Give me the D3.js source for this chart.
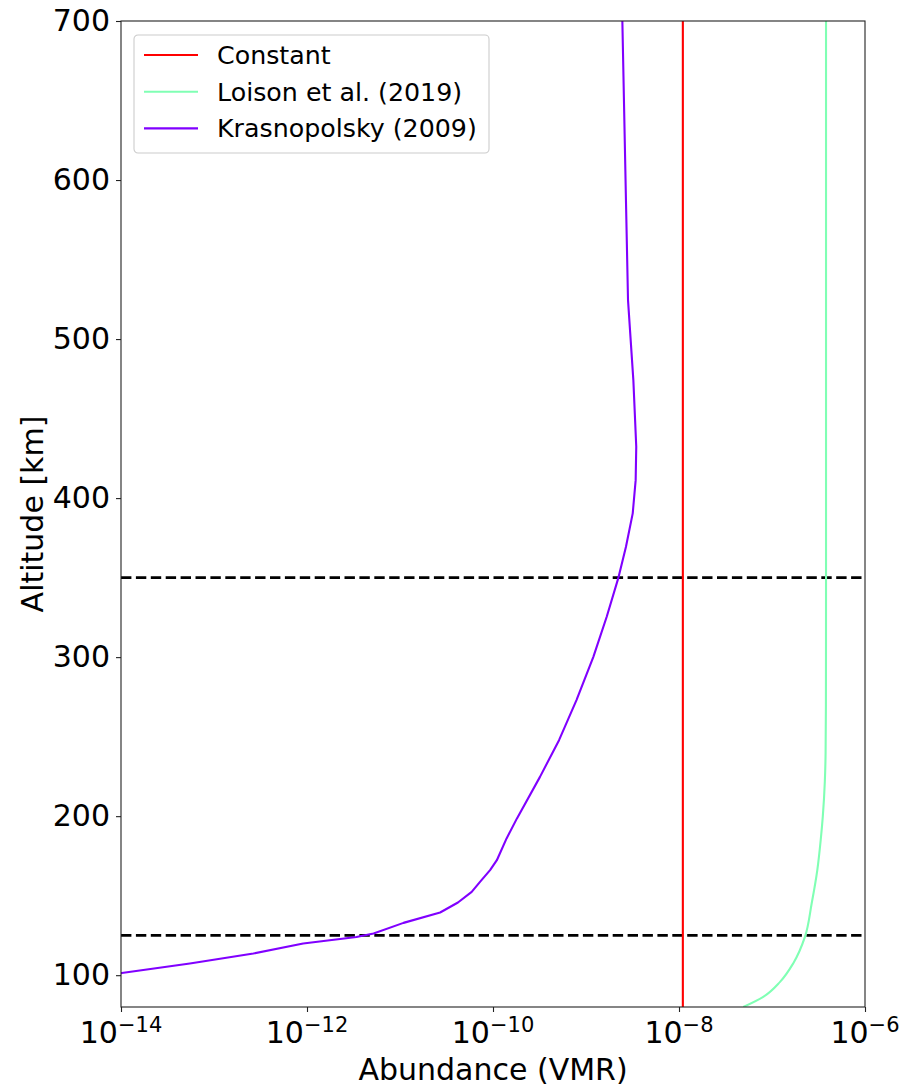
<!DOCTYPE html>
<html lang="en">
<head>
    <meta charset="UTF-8">
    <title>Abundance profiles</title>
    <script src="https://d3js.org/d3.v7.min.js"></script>
    <style>
        body { margin: 0; background: #fff; }
        svg { display: block; }
        text { font-family: "DejaVu Sans", sans-serif; fill: #000; }
    </style>
</head>
<body>
<svg id="chart" width="902" height="1084"></svg>
<script>
    // altitude [km] and abundance (VMR)
    const constantAlt = [80, 700];
    const constantVmr = [1.1e-8, 1.1e-8];

    const loisonAlt = [80, 86.4, 95.8, 107.4, 124.1, 145.1, 166.1, 185, 200, 222, 240, 270, 350, 500, 700];
    const loisonVmr = [4.91e-8, 8.05e-8, 1.22e-7, 1.69e-7, 2.26e-7, 2.67e-7, 3.07e-7, 3.34e-7, 3.52e-7, 3.70e-7, 3.77e-7, 3.80e-7, 3.81e-7, 3.81e-7, 3.81e-7];

    const krasAlt = [98, 101.4, 107.4, 113.6, 119.9, 124.0, 126.2, 132.9, 139.4, 145.7, 152.4, 158.7, 166.1, 172.3,
        186, 198.6, 224.7, 247.8, 273, 300.2, 325.4, 349.5, 369.4, 390.4, 411.3, 432.3, 474.2, 524.5, 587, 700];
    const krasVmr = [6e-15, 1.02e-14, 5.5e-14, 2.65e-13, 9.1e-13, 3.4e-12, 5.2e-12, 1.09e-11, 2.7e-11, 4.2e-11, 5.9e-11, 7.25e-11, 9.3e-11, 1.10e-10,
        1.40e-10, 1.81e-10, 3.20e-10, 5.13e-10, 7.9e-10, 1.20e-9, 1.67e-9, 2.22e-9, 2.69e-9, 3.18e-9, 3.42e-9, 3.47e-9, 3.23e-9, 2.83e-9, 2.69e-9, 2.46e-9];

    const boundaryAlt = [125, 350];

    const xTicks = [1e-14, 1e-12, 1e-10, 1e-8, 1e-6];
    const xTickExp = ["−14", "−12", "−10", "−8", "−6"];
    const yTicks = [100, 200, 300, 400, 500, 600, 700];

    const seriesNames = ["Constant", "Loison et al. (2019)", "Krasnopolsky (2009)"];
    const seriesColors = ["#ff0000", "#80ffb4", "#8000ff"];

    const margin = { top: 21, right: 37, bottom: 77, left: 121 };
    const width = 902 - margin.left - margin.right;
    const height = 1084 - margin.top - margin.bottom;

    const svg = d3.select("#chart");
    const g = svg.append("g").attr("transform", `translate(${margin.left},${margin.top})`);

    const x = d3.scaleLog().domain([1e-14, 1e-6]).range([0, width]);
    const y = d3.scaleLinear().domain([80, 700]).range([height, 0]);

    g.append("clipPath").attr("id", "clip")
        .append("rect").attr("width", width).attr("height", height);

    const plot = g.append("g").attr("clip-path", "url(#clip)");

    // boundary lines
    plot.selectAll(".hline")
        .data(boundaryAlt)
        .enter()
        .append("line")
        .attr("x1", 0)
        .attr("x2", width)
        .attr("y1", d => y(d))
        .attr("y2", d => y(d))
        .attr("stroke", "#000")
        .attr("stroke-width", 2.8)
        .attr("stroke-dasharray", "10.4,4.5");

    // the Loison profile is smooth, the Krasnopolsky one is a piecewise table
    const series = [
        { alt: constantAlt, vmr: constantVmr, curve: d3.curveLinear },
        { alt: loisonAlt, vmr: loisonVmr, curve: d3.curveMonotoneY },
        { alt: krasAlt, vmr: krasVmr, curve: d3.curveLinear }
    ];

    series.forEach((s, i) => {
        const pts = s.alt.map((a, j) => [s.vmr[j], a]);
        const line = d3.line()
            .x(d => x(d[0]))
            .y(d => y(d[1]))
            .curve(s.curve);
        plot.append("path")
            .datum(pts)
            .attr("d", line)
            .attr("fill", "none")
            .attr("stroke", seriesColors[i])
            .attr("stroke-width", 2.1)
            .attr("stroke-linejoin", "round");
    });

    // axes
    const yAxis = g.append("g")
        .call(d3.axisLeft(y).tickValues(yTicks).tickSize(5).tickPadding(6));
    yAxis.select(".domain").remove();
    yAxis.selectAll("line").attr("stroke", "#222").attr("stroke-width", 1.1);
    yAxis.selectAll("text")
        .style("font-size", "30px")
        .style("font-family", "DejaVu Sans, sans-serif");

    const xAxis = g.append("g")
        .attr("transform", `translate(0,${height})`)
        .call(d3.axisBottom(x).tickValues(xTicks).tickSize(5).tickFormat(""));
    xAxis.select(".domain").remove();
    xAxis.selectAll("line").attr("stroke", "#222").attr("stroke-width", 1.1);

    const xLabels = g.append("g").selectAll("text")
        .data(xTicks)
        .enter()
        .append("text")
        .attr("x", d => x(d))
        .attr("y", height + 36)
        .attr("text-anchor", "middle")
        .style("font-size", "30px");
    xLabels.append("tspan").text("10");
    xLabels.append("tspan")
        .attr("dy", -11)
        .style("font-size", "21px")
        .text((d, i) => xTickExp[i]);

    // frame
    g.append("rect")
        .attr("width", width)
        .attr("height", height)
        .attr("fill", "none")
        .attr("stroke", "#222")
        .attr("stroke-width", 1.1);

    // axis titles (bottom one runs off the page edge, as in the original)
    svg.append("text")
        .attr("x", margin.left + width / 2)
        .attr("y", 1080)
        .attr("text-anchor", "middle")
        .style("font-size", "30px")
        .text("Abundance (VMR)");

    svg.append("text")
        .attr("transform", `translate(43,${margin.top + height / 2}) rotate(-90)`)
        .attr("text-anchor", "middle")
        .style("font-size", "30px")
        .text("Altitude [km]");

    // legend
    const legend = svg.append("g").attr("transform", "translate(134,35)");
    legend.append("rect")
        .attr("width", 355)
        .attr("height", 118)
        .attr("rx", 4)
        .attr("fill", "#fff")
        .attr("fill-opacity", 0.8)
        .attr("stroke", "#cccccc")
        .attr("stroke-width", 1.1);

    const items = legend.selectAll(".item")
        .data(seriesNames)
        .enter()
        .append("g")
        .attr("transform", (d, i) => `translate(0,${20 + i * 36.7})`);
    items.append("line")
        .attr("x1", 10)
        .attr("x2", 64)
        .attr("stroke", (d, i) => seriesColors[i])
        .attr("stroke-width", 2.1);
    items.append("text")
        .attr("x", 83)
        .attr("y", 9)
        .style("font-size", "25.3px")
        .text(d => d);
</script>
</body>
</html>
